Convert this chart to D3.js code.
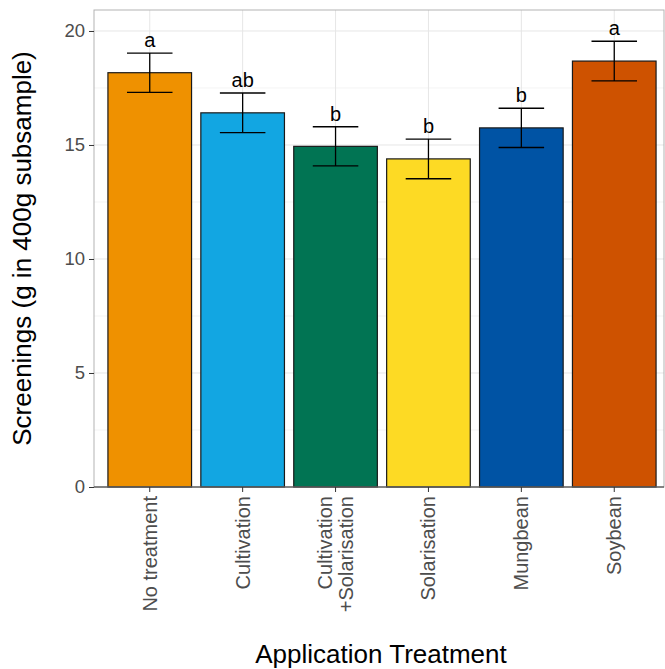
<!DOCTYPE html>
<html>
<head>
<meta charset="utf-8">
<script src="https://cdn.jsdelivr.net/npm/d3@7"></script>
<style>
    body { margin: 0; background: #ffffff; overflow: hidden; }
    svg { display: block; font-family: "Liberation Sans", Arial, sans-serif; }
</style>
</head>
<body>
<svg id="chart" width="665" height="669"></svg>
<script>

//*************************************************//
// Chart data
//*************************************************//
var categories = ['No treatment', 'Cultivation', 'Cultivation\n+Solarisation', 'Solarisation', 'Mungbean', 'Soybean'];
var means = [18.17, 16.41, 14.94, 14.39, 15.75, 18.68];
var errors = [0.86, 0.87, 0.86, 0.87, 0.86, 0.87];
var letters = ['a', 'ab', 'b', 'b', 'b', 'a'];
var colours = ['#EF9100', '#12A6E2', '#017453', '#FDDA24', '#0053A4', '#CE5200'];
var yTicks = [0, 5, 10, 15, 20];
var yMinor = [2.5, 7.5, 12.5, 17.5];


//*************************************************//
// Layout
//*************************************************//
var svg = d3.select('#chart');

// panel runs slightly past the right edge of the picture
var panel = {left: 94, right: 670, top: 10, bottom: 487};
var borderRight = 664;

// x is a band per treatment, y is screenings
var x = d3.scaleBand()
    .domain(categories)
    .range([panel.left, panel.right])
    .paddingInner(0.1)
    .paddingOuter(0.15);

var y = d3.scaleLinear()
    .domain([0, 20.92])
    .range([panel.bottom, panel.top]);


/*****************************/
// Grid lines
/*****************************/
svg.append('g').selectAll('line')
    .data(yMinor)
    .enter().append('line')
    .attr('x1', panel.left).attr('x2', borderRight)
    .attr('y1', function(d) { return y(d); })
    .attr('y2', function(d) { return y(d); })
    .attr('stroke', '#f0f0f0')
    .attr('stroke-width', 0.8);

svg.append('g').selectAll('line')
    .data(yTicks)
    .enter().append('line')
    .attr('x1', panel.left).attr('x2', borderRight)
    .attr('y1', function(d) { return y(d); })
    .attr('y2', function(d) { return y(d); })
    .attr('stroke', '#e6e6e6')
    .attr('stroke-width', 1);

svg.append('g').selectAll('line')
    .data(categories)
    .enter().append('line')
    .attr('x1', function(d) { return x(d) + x.bandwidth() / 2; })
    .attr('x2', function(d) { return x(d) + x.bandwidth() / 2; })
    .attr('y1', panel.top).attr('y2', panel.bottom)
    .attr('stroke', '#e6e6e6')
    .attr('stroke-width', 1);


/*****************************/
// Bars
/*****************************/
svg.append('g').selectAll('rect')
    .data(means)
    .enter().append('rect')
    .attr('x', function(d, i) { return x(categories[i]); })
    .attr('width', x.bandwidth())
    .attr('y', function(d) { return y(d); })
    .attr('height', function(d) { return y(0) - y(d); })
    .attr('fill', function(d, i) { return colours[i]; })
    .attr('stroke', '#1a1a1a')
    .attr('stroke-width', 1.2);


/*****************************/
// Error bars and letters
/*****************************/
var errW = x.step() * 0.245;

var errs = svg.append('g')
    .attr('stroke', '#000000')
    .attr('stroke-width', 1.3)
    .selectAll('g')
    .data(means)
    .enter().append('g');

errs.append('line')
    .attr('x1', function(d, i) { return x(categories[i]) + x.bandwidth() / 2; })
    .attr('x2', function(d, i) { return x(categories[i]) + x.bandwidth() / 2; })
    .attr('y1', function(d, i) { return y(d - errors[i]); })
    .attr('y2', function(d, i) { return y(d + errors[i]); });

errs.append('line')
    .attr('x1', function(d, i) { return x(categories[i]) + x.bandwidth() / 2 - errW; })
    .attr('x2', function(d, i) { return x(categories[i]) + x.bandwidth() / 2 + errW; })
    .attr('y1', function(d, i) { return y(d + errors[i]); })
    .attr('y2', function(d, i) { return y(d + errors[i]); });

errs.append('line')
    .attr('x1', function(d, i) { return x(categories[i]) + x.bandwidth() / 2 - errW; })
    .attr('x2', function(d, i) { return x(categories[i]) + x.bandwidth() / 2 + errW; })
    .attr('y1', function(d, i) { return y(d - errors[i]); })
    .attr('y2', function(d, i) { return y(d - errors[i]); });

svg.append('g').selectAll('text')
    .data(means)
    .enter().append('text')
    .attr('x', function(d, i) { return x(categories[i]) + x.bandwidth() / 2; })
    .attr('y', function(d, i) { return y(d + errors[i]) - 6; })
    .attr('text-anchor', 'middle')
    .attr('font-size', '20px')
    .attr('fill', '#000000')
    .text(function(d, i) { return letters[i]; });


/*****************************/
// Panel border and axes
/*****************************/
svg.append('rect')
    .attr('x', panel.left).attr('y', panel.top)
    .attr('width', borderRight - panel.left)
    .attr('height', panel.bottom - panel.top)
    .attr('fill', 'none')
    .attr('stroke', '#b3b3b3')
    .attr('stroke-width', 1);

// y axis
var yAxis = svg.append('g')
    .attr('transform', 'translate(' + panel.left + ',0)')
    .call(d3.axisLeft(y).tickValues(yTicks).tickSize(5).tickPadding(4));

yAxis.select('.domain').remove();
yAxis.selectAll('line').attr('stroke', '#333333');
yAxis.selectAll('text')
    .attr('font-size', '18.5px')
    .attr('font-family', '"Liberation Sans", Arial, sans-serif')
    .attr('fill', '#4d4d4d');

// x axis
var xAxis = svg.append('g')
    .attr('transform', 'translate(0,' + panel.bottom + ')')
    .call(d3.axisBottom(x).tickSize(5).tickFormat(''));

xAxis.select('.domain')
    .attr('stroke', '#333333')
    .attr('d', 'M' + panel.left + ',0H' + borderRight);
xAxis.selectAll('line').attr('stroke', '#333333');

// rotated tick labels, split on newline
xAxis.selectAll('.tick').each(function(d) {
    var lines = d.split('\n');
    var t = d3.select(this).append('text')
        .attr('transform', 'translate(0,9) rotate(-90)')
        .attr('text-anchor', 'end')
        .attr('font-size', '20px')
        .attr('font-family', '"Liberation Sans", Arial, sans-serif')
        .attr('fill', '#4d4d4d');
    lines.forEach(function(l, k) {
        t.append('tspan')
            .attr('x', 0)
            .attr('y', (k - (lines.length - 1) / 2) * 21.5)
            .attr('dy', '0.35em')
            .text(l);
    });
});


/*****************************/
// Axis titles
/*****************************/
svg.append('text')
    .attr('x', (panel.left + borderRight) / 2 + 2)
    .attr('y', 663)
    .attr('text-anchor', 'middle')
    .attr('font-size', '26px')
    .attr('fill', '#000000')
    .text('Application Treatment');

svg.append('text')
    .attr('transform', 'translate(31,' + ((panel.top + panel.bottom) / 2) + ') rotate(-90)')
    .attr('text-anchor', 'middle')
    .attr('font-size', '26px')
    .attr('fill', '#000000')
    .text('Screenings (g in 400g subsample)');

</script>
</body>
</html>
